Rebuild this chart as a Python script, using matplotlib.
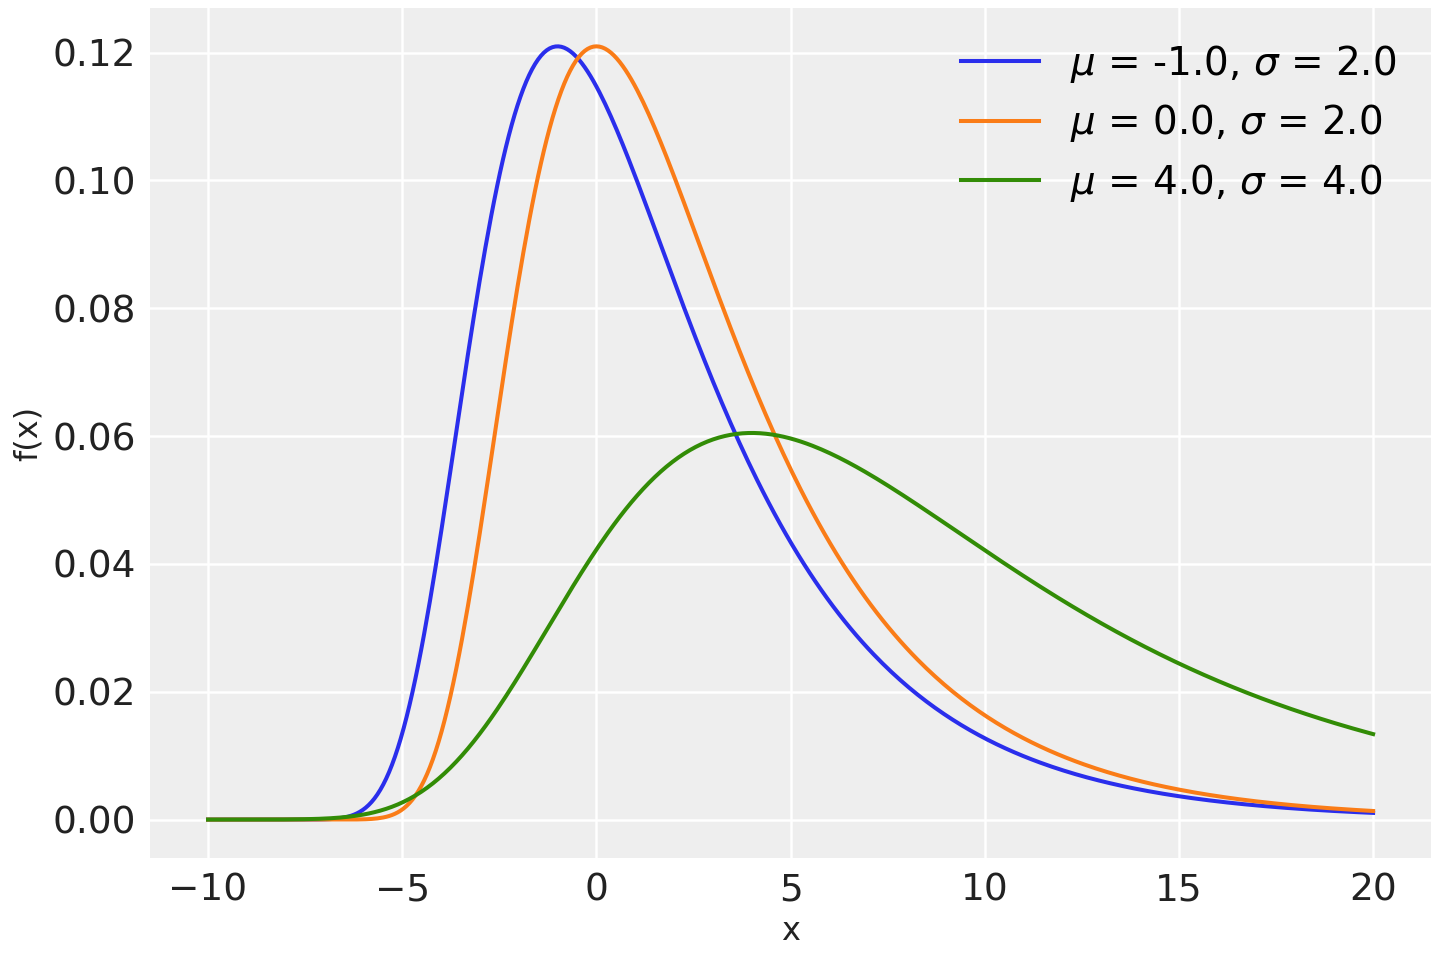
import matplotlib
matplotlib.use("Agg")
import matplotlib.pyplot as plt
import numpy as np

# Parameter aus der Legende (Moyal-Verteilung)
mus = [-1.0, 0.0, 4.0]
sigmas = [2.0, 2.0, 4.0]
farben = ["#2a2eec", "#fa7c17", "#328c06"]
x_min, x_max = -10, 20


def moyal_pdf(x, mu, sigma):
    z = (x - mu) / sigma
    return np.exp(-(z + np.exp(-z)) / 2) / (np.sqrt(2 * np.pi) * sigma)


plt.rcParams["font.family"] = ["DejaVu Sans"]
fig, ax = plt.subplots(figsize=(14.4, 9.6), dpi=100)
fig.patch.set_facecolor("white")
ax.set_facecolor("#eeeeee")

x = np.linspace(x_min, x_max, 400)
for mu, sigma, c in zip(mus, sigmas, farben):
    ax.plot(x, moyal_pdf(x, mu, sigma), color=c, lw=2.9,
            label=rf"$\mu$ = {mu:.1f}, $\sigma$ = {sigma:.1f}")

ax.grid(True, color="white", lw=1.8)
ax.set_axisbelow(True)
for s in ax.spines.values():
    s.set_visible(False)
ax.tick_params(labelsize=27, length=0, pad=10, colors="#222222")
ax.set_xticks([-10, -5, 0, 5, 10, 15, 20])
ax.set_xlabel("x", fontsize=23, color="#222222", labelpad=6)
ax.set_ylabel("f(x)", fontsize=23, color="#222222", labelpad=6)
ax.legend(fontsize=28, frameon=False, loc="upper right", handlelength=2.0,
          labelspacing=0.45)

fig.subplots_adjust(left=0.104, right=0.994, top=0.992, bottom=0.106)
fig.savefig("out.png", dpi=100)
